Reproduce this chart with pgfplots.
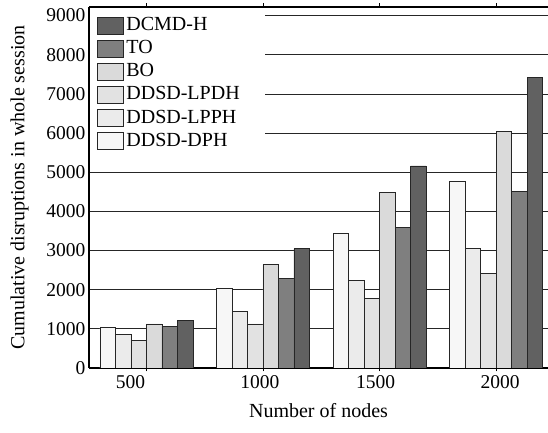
\documentclass[border=0pt]{standalone}
\usepackage{pgfplots}
\pgfplotsset{compat=1.18}
\usepackage{fontspec}
\setmainfont{Liberation Serif}
\definecolor{cDPH}{HTML}{F7F7F7}
\definecolor{cLPPH}{HTML}{EBEBEB}
\definecolor{cLPDH}{HTML}{E2E2E2}
\definecolor{cBO}{HTML}{DADADA}
\definecolor{cTO}{HTML}{7F7F7F}
\definecolor{cDCMD}{HTML}{616161}
\begin{document}
\begin{tikzpicture}
\begin{axis}[name=ax,
  scale only axis, width=459pt, height=361pt,
  xmin=-0.493, xmax=3.446, ymin=0, ymax=9220,
  ybar=0pt, bar width=15.5pt,
  axis x line*=box, axis y line*=left,
  axis line style={line width=1.2pt, black},
  xtick={0,1,2,3},
  xticklabels={\hspace*{-32pt}500,\hspace*{-6pt}1000,\hspace*{-8pt}1500,\hspace*{8pt}2000},
  x tick style={black, line width=0.8pt}, major tick length=3.5pt,
  ytick={0,1000,...,9000}, ytick style={draw=none},
  scaled y ticks=false,
  yticklabel={\pgfmathprintnumber[assume math mode=true,1000 sep={},fixed,precision=0]{\tick}},
  ymajorgrids, major grid style={black!85, line width=0.8pt},
  tick label style={font=\fontsize{19.5}{22}\selectfont},
  label style={font=\fontsize{20}{24}\selectfont},
  xlabel={Number of nodes}, xlabel shift=8pt,
  ylabel={Cumulative disruptions in whole session}, ylabel shift=11pt,
  reverse legend,
  legend cell align=left,
  legend image code/.code={\draw[#1] (0pt,-8.5pt) rectangle (26pt,8.5pt);},
  legend style={at={(0,1)}, anchor=north west, xshift=1pt, yshift=-1pt,
    fill=white, draw=none, inner xsep=7pt, inner ysep=7pt,
    font=\fontsize{20}{24}\selectfont, row sep=2.1pt,
    nodes={inner xsep=2.5pt, inner ysep=1.5pt, text height=14pt, text depth=4pt}},
  every axis plot/.append style={draw=black!85, line width=0.7pt},
]
\addplot[fill=cDPH]  coordinates {(0,1040) (1,2040) (2,3430) (3,4765)};
\addlegendentry{DDSD-DPH}
\addplot[fill=cLPPH] coordinates {(0,860) (1,1440) (2,2245) (3,3045)};
\addlegendentry{DDSD-LPPH}
\addplot[fill=cLPDH] coordinates {(0,710) (1,1125) (2,1775) (3,2405)};
\addlegendentry{DDSD-LPDH\hspace*{16pt}}
\addplot[fill=cBO]   coordinates {(0,1125) (1,2640) (2,4490) (3,6045)};
\addlegendentry{BO}
\addplot[fill=cTO]   coordinates {(0,1065) (1,2285) (2,3600) (3,4510)};
\addlegendentry{TO}
\addplot[fill=cDCMD] coordinates {(0,1220) (1,3045) (2,5160) (3,7420)};
\addlegendentry{DCMD-H}
\end{axis}
\pgfresetboundingbox
\path ([shift={(-89pt,-65pt)}]ax.south west) rectangle ([shift={(0pt,7pt)}]ax.north east);
\end{tikzpicture}
\end{document}
